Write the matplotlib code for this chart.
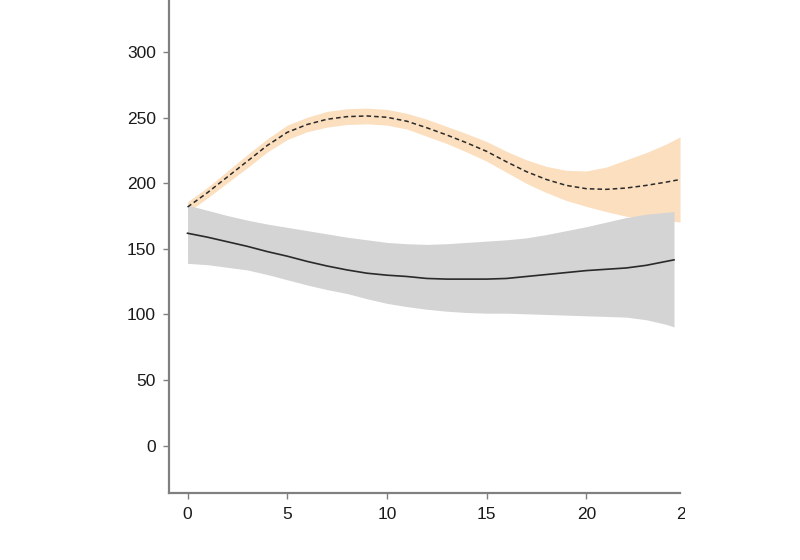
import matplotlib
matplotlib.use("Agg")
import matplotlib.pyplot as plt
from matplotlib.transforms import Bbox, TransformedBbox

# ---- data ----
t_orange = [0, 1, 2, 3, 4, 5, 6, 7, 8, 9, 10, 11, 12, 13, 14, 15, 16, 17, 18, 19, 20, 21, 22, 23, 24, 24.7]
orange_mid = [182, 193, 205, 217, 229, 239, 245, 249, 251, 251.5, 250.5, 247.5, 242.5, 237, 231, 224.5,
              216.5, 209, 203, 198.5, 196, 195.5, 196.5, 198.5, 201, 203]
orange_hi = [186, 197, 209.5, 222, 234, 244.5, 250.5, 255, 257, 257.5, 256.5, 253.5, 249, 243.5, 238, 232,
             224.5, 218, 213, 210, 209.5, 212.5, 218, 223.5, 230, 235.5]
orange_lo = [178, 189, 200.5, 212, 224, 233.5, 239.5, 243, 245, 245.5, 244.5, 241.5, 236, 230.5, 224, 217,
             208.5, 200, 193, 187, 182.5, 178.5, 175, 173.5, 172, 170.5]

t_grey = [0, 1, 2, 3, 4, 5, 6, 7, 8, 9, 10, 11, 12, 13, 14, 15, 16, 17, 18, 19, 20, 21, 22, 23, 24, 24.4]
grey_mid = [162, 159, 155.5, 152, 148, 144.5, 140.5, 137, 134, 131.5, 130, 129, 127.5, 127, 127, 127,
            127.5, 129, 130.5, 132, 133.5, 134.5, 135.5, 137.5, 140.5, 141.7]
grey_hi = [183.5, 179.5, 175.5, 172, 169, 166.5, 164, 161.5, 159, 157, 155, 154, 153.5, 154, 155, 156,
           157, 158.5, 161, 164, 167, 170.5, 174, 176.5, 178, 178.5]
grey_lo = [139, 138, 136, 134, 130.5, 126.5, 122.5, 119, 116, 112, 108.5, 106, 104, 102.5, 101.5, 101,
           101, 100.5, 100, 99.5, 99, 98.5, 98, 96, 92.5, 90.5]

x_ticks = [0, 5, 10, 15, 20]
y_ticks = [0, 50, 100, 150, 200, 250, 300]

plt.rcParams['font.family'] = ['Liberation Sans Narrow', 'Liberation Sans', 'DejaVu Sans']

fig = plt.figure(figsize=(8, 5.6), dpi=100)
ax = fig.add_axes([169 / 800, 1 - 492.7 / 560, (680 - 169) / 800, 492.7 / 560])

ax.fill_between(t_orange, orange_lo, orange_hi, color='#FBDFBE', lw=0, zorder=1)
ax.fill_between(t_grey, grey_lo, grey_hi, color='#D4D4D4', lw=0, zorder=2)
ax.plot(t_orange, orange_mid, color='#2a2a2a', lw=1.1, ls=(0, (3, 2)), zorder=3)
ax.plot(t_grey, grey_mid, color='#2a2a2a', lw=1.2, zorder=3)

ax.set_xlim(-0.93, 24.7)
ax.set_ylim(-36, 340)
ax.set_xticks(x_ticks)
ax.set_yticks(y_ticks)

for s in ['top', 'right']:
    ax.spines[s].set_visible(False)
for s in ['left', 'bottom']:
    ax.spines[s].set_color('#808080')
    ax.spines[s].set_linewidth(1.6)

ax.tick_params(axis='both', direction='out', length=4.5, width=1.0, color='#808080',
               labelsize=12.5, labelcolor='#1a1a1a')
ax.tick_params(axis='x', pad=6)
ax.tick_params(axis='y', pad=5)

# partially cut "25" label as in the reference
txt = ax.text(25, -0.0, '25', transform=ax.get_xaxis_transform(), ha='center', va='top',
              fontsize=12.5, color='#1a1a1a')
txt.set_y(ax.xaxis.get_ticklabels()[0].get_position()[1])
fig.canvas.draw()
lab0 = ax.xaxis.get_ticklabels()[0]
bb = lab0.get_window_extent()
inv = ax.get_xaxis_transform().inverted()
ytop = inv.transform((0, bb.y1))[1]
txt.set_position((25, ytop))
txt.set_clip_on(True)
txt.set_clip_box(TransformedBbox(Bbox([[0, 0], [685 / 800, 1]]), fig.transFigure))

fig.savefig('out.png', dpi=100)
